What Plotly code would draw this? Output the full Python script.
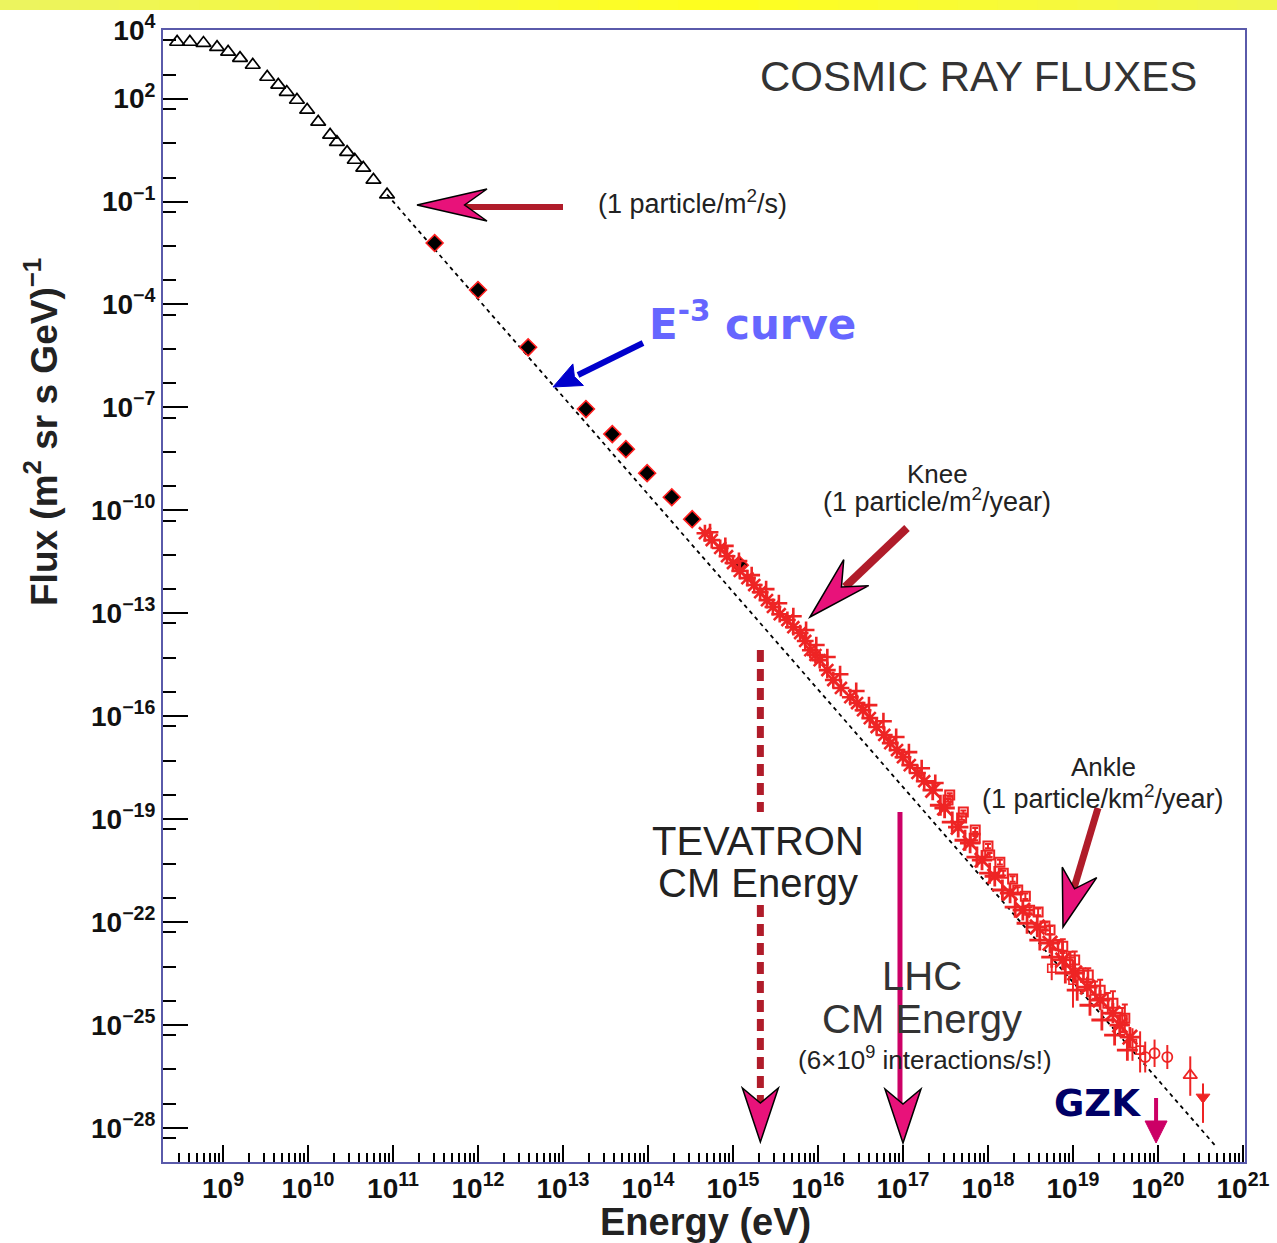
import numpy as np
import plotly.graph_objects as go

# ---------------- data (log10 values) ----------------
x_range_log = [8.294, 21.024]
y_range_log = [-29.0, 4.0]

# low-energy satellite data (open triangles)
tri_logE = [8.46, 8.61, 8.77, 8.93, 9.06, 9.20, 9.35, 9.52, 9.65, 9.75,
            9.87, 9.99, 10.12, 10.26, 10.34, 10.46, 10.55, 10.65, 10.77, 10.93]
tri_logF = [3.65, 3.65, 3.62, 3.50, 3.36, 3.18, 2.98, 2.63, 2.40, 2.19,
            1.96, 1.67, 1.32, 0.94, 0.73, 0.44, 0.21, -0.02, -0.37, -0.80]

# direct measurements (filled black markers)
dir_logE = [11.49, 12.00, 12.59, 13.27, 13.58, 13.74, 13.99, 14.28, 14.52, 15.08]
dir_logF = [-2.21, -3.58, -5.25, -7.05, -7.78, -8.22, -8.92, -9.62, -10.26, -11.60]

# air-shower data around the knee (red asterisks, band centre)
knee_logE = [14.67, 14.75, 14.85, 14.93, 15.00, 15.08, 15.17, 15.25, 15.32, 15.40,
             15.47, 15.55, 15.64, 15.71, 15.79, 15.85, 15.91, 15.97, 16.02, 16.11,
             16.18, 16.27, 16.38, 16.46, 16.53, 16.61, 16.69, 16.78, 16.85, 16.93,
             17.00, 17.08, 17.17, 17.25]
knee_logF = [-10.67, -10.87, -11.10, -11.34, -11.54, -11.77, -11.98, -12.18, -12.39, -12.62,
             -12.82, -13.03, -13.20, -13.41, -13.58, -13.81, -14.08, -14.22, -14.37, -14.66,
             -14.95, -15.18, -15.45, -15.62, -15.83, -16.06, -16.32, -16.55, -16.79, -16.99,
             -17.20, -17.43, -17.66, -17.90]

# second knee data set (red crosses, upper edge of the band)
knee2_logE = [14.73, 14.91, 15.07, 15.22, 15.39, 15.54, 15.71, 15.86, 15.98, 16.11,
              16.26, 16.45, 16.60, 16.77, 16.92, 17.07, 17.22, 17.38]
knee2_logF = [-10.64, -11.04, -11.48, -11.89, -12.30, -12.71, -13.09, -13.49, -13.93, -14.28,
              -14.78, -15.27, -15.68, -16.15, -16.61, -17.05, -17.52, -17.95]

# high-energy air-shower data (red asterisks)
high_logE = [17.35, 17.49, 17.65, 17.79, 17.93, 18.08, 18.26, 18.41, 18.58,
             18.73, 18.88, 19.02, 19.17, 19.32, 19.47, 19.55, 19.67]
high_logF = [-18.16, -18.68, -19.24, -19.70, -20.20, -20.67, -21.16, -21.66, -22.15,
             -22.62, -23.11, -23.49, -23.90, -24.28, -24.66, -25.01, -25.36]

# high-energy data, lower edge of the band (red crosses)
high2_logE = [17.44, 17.58, 17.73, 17.87, 18.02, 18.17, 18.32, 18.46, 18.61,
              18.75, 18.91, 19.05, 19.20, 19.34, 19.49, 19.64]
high2_logF = [-18.60, -19.09, -19.62, -20.11, -20.58, -21.07, -21.57, -22.04, -22.53,
              -23.03, -23.49, -23.99, -24.43, -24.86, -25.30, -25.74]

# high-energy data with error bars (red open squares, upper edge)
sq_logE = [17.53, 17.69, 17.85, 18.02, 18.18, 18.35, 18.49, 18.67, 18.82,
           18.97, 19.12, 19.26, 19.41, 19.58]
sq_logF = [-18.45, -18.97, -19.56, -20.05, -20.58, -21.07, -21.66, -22.12, -22.68,
           -23.17, -23.55, -23.99, -24.37, -24.86]
sq_logErr = [0.05, 0.05, 0.06, 0.06, 0.07, 0.08, 0.09, 0.10, 0.15,
             0.30, 0.20, 0.25, 0.30, 0.35]

sq2_logE = [17.55, 17.71, 17.85, 18.00, 18.14, 18.29, 18.44, 18.59, 18.73,
            18.88, 19.02, 19.18, 19.32, 19.47, 19.61]
sq2_logF = [-18.30, -18.80, -19.32, -19.79, -20.26, -20.75, -21.25, -21.71, -22.24,
            -22.71, -23.11, -23.55, -23.99, -24.37, -24.81]
sq2_logErr = [0.05, 0.05, 0.06, 0.06, 0.07, 0.08, 0.08, 0.10, 0.12,
              0.20, 0.25, 0.20, 0.30, 0.35, 0.40]

# ankle / highest-energy points with large error bars (red)
ank_logE = [18.75, 18.88, 19.00, 19.79, 19.70]
ank_logF = [-23.35, -22.97, -23.70, -25.74, -25.55]
ank_logErrUp = [0.30, 0.40, 0.60, 0.55, 0.45]
ank_logErrDn = [0.35, 0.40, 0.80, 0.65, 0.50]

circ_logE = [19.85, 19.96, 20.11]
circ_logF = [-25.94, -25.83, -25.94]
circ_logErr = [0.45, 0.40, 0.35]

otri_logE = [20.38]
otri_logF = [-26.47]
otri_logErrUp = [0.55]
otri_logErrDn = [0.60]

dtri_logE = [20.53]
dtri_logF = [-27.11]
dtri_logErrUp = [0.40]
dtri_logErrDn = [0.75]

# E^-3 style reference line (dashed): end points
ref_logE = [10.93, 20.67]
ref_logF = [-0.80, -28.51]

# accelerator / feature energies (eV)
tevatron_E = 2.1e15
lhc_E = 1.0e17
gzk_E = 9.5e19

# tick labels
x_tick_exp = list(range(9, 22))
x_tick_text = ["10<sup>%d</sup>" % k for k in x_tick_exp]
y_label_exp = [4, 2, -1, -4, -7, -10, -13, -16, -19, -22, -25, -28]
y_label_text = ["10<sup>%s</sup>" % (str(k) if k >= 0 else "\u2212%d" % (-k)) for k in y_label_exp]

# ---------------- helpers ----------------
def pw(v):
    return np.power(10.0, np.array(v, dtype=float))

def err_up(logF, logE_up):
    return pw(logF) * (pw(logE_up) - 1.0)

def err_dn(logF, logE_dn):
    return pw(logF) * (1.0 - pw(-np.array(logE_dn)))

W, H = 1277, 1243
L_PX, R_PX, T_PX, B_PX = 163, 1245, 30, 1162
PW, PH = R_PX - L_PX, B_PX - T_PX

def P(px, py):
    return ((px - L_PX) / PW, (B_PX - py) / PH)

def xpix_of_E(E):
    return L_PX + (np.log10(E) - x_range_log[0]) / (x_range_log[1] - x_range_log[0]) * PW

def head_path(tip, d, L, hw, nf):
    tx, ty = tip
    n = np.hypot(*d)
    dx, dy = d[0] / n, d[1] / n
    bx, by = tx - L * dx, ty - L * dy
    nx, ny = -dy, dx
    pts = [(tx, ty), (bx + hw * nx, by + hw * ny), (tx - nf * L * dx, ty - nf * L * dy),
           (bx - hw * nx, by - hw * ny)]
    s = ""
    for i, (x, y) in enumerate(pts):
        a, b = P(x, y)
        s += ("M" if i == 0 else " L") + " %.5f,%.5f" % (a, b)
    return s + " Z"

RED = "#ee2424"
PINK = "#e8127a"
DARKRED = "#b01c2a"
MAGENTA = "#cc0066"
SANS = "Liberation Sans, Arial, sans-serif"
VERD = "DejaVu Sans, Verdana, sans-serif"

fig = go.Figure()

fig.add_trace(go.Scatter(x=pw(ref_logE), y=pw(ref_logF), mode="lines",
                         line=dict(color="black", width=1.8, dash="4px,4px"),
                         hoverinfo="skip"))

fig.add_trace(go.Scatter(x=pw(tri_logE), y=pw(tri_logF), mode="markers",
                         marker=dict(symbol="triangle-up-open", size=13, color="black",
                                     line=dict(color="black", width=1.7))))

fig.add_trace(go.Scatter(x=pw(dir_logE), y=pw(dir_logF), mode="markers",
                         marker=dict(symbol="diamond", size=13, color="black",
                                     line=dict(color="#ff2020", width=1.6))))

fig.add_trace(go.Scatter(x=pw(knee_logE), y=pw(knee_logF), mode="markers",
                         marker=dict(symbol="asterisk-open", size=14, color=RED,
                                     line=dict(color=RED, width=2.6))))

fig.add_trace(go.Scatter(x=pw(knee2_logE), y=pw(knee2_logF), mode="markers",
                         marker=dict(symbol="cross-thin-open", size=12, color=RED,
                                     line=dict(color=RED, width=2.6))))

fig.add_trace(go.Scatter(x=pw(high_logE), y=pw(high_logF), mode="markers",
                         marker=dict(symbol="asterisk-open", size=17, color=RED,
                                     line=dict(color=RED, width=2.8))))

fig.add_trace(go.Scatter(x=pw(high2_logE), y=pw(high2_logF), mode="markers",
                         marker=dict(symbol="cross-thin-open", size=15, color=RED,
                                     line=dict(color=RED, width=2.8))))

fig.add_trace(go.Scatter(x=pw(sq_logE), y=pw(sq_logF), mode="markers",
                         marker=dict(symbol="square-open", size=9, color=RED,
                                     line=dict(color=RED, width=2)),
                         error_y=dict(type="data", symmetric=False,
                                      array=err_up(sq_logF, sq_logErr),
                                      arrayminus=err_dn(sq_logF, sq_logErr),
                                      color=RED, thickness=2, width=3)))

fig.add_trace(go.Scatter(x=pw(sq2_logE), y=pw(sq2_logF), mode="markers",
                         marker=dict(symbol="square-open", size=9, color=RED,
                                     line=dict(color=RED, width=2)),
                         error_y=dict(type="data", symmetric=False,
                                      array=err_up(sq2_logF, sq2_logErr),
                                      arrayminus=err_dn(sq2_logF, sq2_logErr),
                                      color=RED, thickness=2, width=3)))

fig.add_trace(go.Scatter(x=pw(ank_logE), y=pw(ank_logF), mode="markers",
                         marker=dict(symbol="square-open", size=8, color=RED,
                                     line=dict(color=RED, width=1.6)),
                         error_y=dict(type="data", symmetric=False,
                                      array=err_up(ank_logF, ank_logErrUp),
                                      arrayminus=err_dn(ank_logF, ank_logErrDn),
                                      color=RED, thickness=2, width=0)))

fig.add_trace(go.Scatter(x=pw(circ_logE), y=pw(circ_logF), mode="markers",
                         marker=dict(symbol="circle-open", size=10, color=RED,
                                     line=dict(color=RED, width=1.8)),
                         error_y=dict(type="data", symmetric=False,
                                      array=err_up(circ_logF, circ_logErr),
                                      arrayminus=err_dn(circ_logF, circ_logErr),
                                      color=RED, thickness=2, width=0)))

fig.add_trace(go.Scatter(x=pw(otri_logE), y=pw(otri_logF), mode="markers",
                         marker=dict(symbol="triangle-up-open", size=12, color=RED,
                                     line=dict(color=RED, width=1.8)),
                         error_y=dict(type="data", symmetric=False,
                                      array=err_up(otri_logF, otri_logErrUp),
                                      arrayminus=err_dn(otri_logF, otri_logErrDn),
                                      color=RED, thickness=2, width=0)))

fig.add_trace(go.Scatter(x=pw(dtri_logE), y=pw(dtri_logF), mode="markers",
                         marker=dict(symbol="triangle-down", size=12, color=RED,
                                     line=dict(color=RED, width=1)),
                         error_y=dict(type="data", symmetric=False,
                                      array=err_up(dtri_logF, dtri_logErrUp),
                                      arrayminus=err_dn(dtri_logF, dtri_logErrDn),
                                      color=RED, thickness=2, width=0)))

shapes = []

# yellow gradient band at the very top
nseg = 32
for i in range(nseg):
    x0 = i * W / nseg
    x1 = (i + 1) * W / nseg + 1
    xc = (x0 + x1) / 2
    t = max(0.0, 1 - abs(xc - 720) / 720.0)
    r = int(236 + (255 - 236) * t)
    g = int(244 + (255 - 244) * t)
    b = int(96 + (30 - 96) * t)
    a0 = P(x0, 0)
    a1 = P(x1, 10)
    shapes.append(dict(type="rect", xref="paper", yref="paper", x0=a0[0], x1=a1[0],
                       y0=a1[1], y1=a0[1], fillcolor="rgb(%d,%d,%d)" % (r, g, b),
                       line=dict(width=0), layer="above"))

def seg(p0, p1, color, width, dash=None):
    a, b = P(*p0), P(*p1)
    ln = dict(color=color, width=width)
    if dash:
        ln["dash"] = dash
    shapes.append(dict(type="line", xref="paper", yref="paper", x0=a[0], y0=a[1],
                       x1=b[0], y1=b[1], line=ln, layer="above"))

def head(tip, d, L, hw, nf, fill=PINK, outline="black", ow=1.5):
    shapes.append(dict(type="path", xref="paper", yref="paper",
                       path=head_path(tip, d, L, hw, nf), fillcolor=fill,
                       line=dict(color=outline, width=ow), layer="above"))

# 1 particle / m^2 / s arrow
seg((563, 207), (462, 207), DARKRED, 6)
head((417, 205), (-1, 0), 70, 16, 0.68)

# knee arrow
seg((907, 528), (845, 587), DARKRED, 8)
head((810, 617), (-0.72, 0.69), 64, 18, 0.68)

# ankle arrow
seg((1098, 808), (1074, 888), DARKRED, 7)
head((1063, 927), (-0.29, 0.96), 57, 18, 0.70)

# E^-3 arrow (blue)
seg((643, 343), (578, 375), "#0000cc", 6)
head((553, 387), (-0.9, 0.44), 28, 12, 0.85, fill="#0000cc", outline="#0000cc", ow=1)

# Tevatron dashed line with gap for the text
xt = xpix_of_E(tevatron_E)
seg((xt, 650), (xt, 812), DARKRED, 7, dash="12px,7px")
seg((xt, 905), (xt, 1102), DARKRED, 7, dash="12px,7px")
head((xt, 1142), (0, 1), 54, 18, 0.72)

# LHC solid line
xl = xpix_of_E(lhc_E)
seg((xl - 3, 812), (xl - 3, 1104), MAGENTA, 5)
head((xl, 1143), (0, 1), 54, 18, 0.72)

# GZK arrow
xg = xpix_of_E(gzk_E)
seg((xg, 1098), (xg, 1126), MAGENTA, 4)
head((xg, 1143), (0, 1), 22, 11, 1.0, fill=MAGENTA, outline=MAGENTA, ow=1)

annotations = []

def txt(text, px, py, size, color="#222222", family=SANS, xanchor="center", angle=0, bold=False):
    a, b = P(px, py)
    annotations.append(dict(text=text, x=a, y=b, xref="paper", yref="paper",
                            showarrow=False, xanchor=xanchor, yanchor="middle",
                            textangle=angle,
                            font=dict(size=size, color=color, family=family,
                                      weight="bold" if bold else "normal")))

txt("COSMIC RAY FLUXES", 978, 77, 42, color="#333333")
txt("(1 particle/m<sup>2</sup>/s)", 692, 202, 27)
txt("E<sup>-3</sup> curve", 647, 322, 42, color="#6666ff", family=VERD, xanchor="left", bold=True)
txt("Knee", 937, 474, 26)
txt("(1 particle/m<sup>2</sup>/year)", 937, 500, 27)
txt("Ankle", 1103, 767, 26)
txt("(1 particle/km<sup>2</sup>/year)", 1103, 797, 27)
txt("TEVATRON", 758, 841, 40)
txt("CM Energy", 758, 883, 40)
txt("LHC", 922, 976, 40, color="#333333")
txt("CM Energy", 922, 1019, 40, color="#333333")
txt("(6\u00d710<sup>9</sup> interactions/s!)", 925, 1058, 26)
txt("GZK", 1097, 1103, 37, color="#000066", family=VERD, bold=True)
txt("Flux (m<sup>2</sup> sr s GeV)<sup>\u22121</sup>", 42, 432, 37, color="#222222", angle=-90, bold=True)
txt("Energy (eV)", 705, 1222, 38, color="#222222", bold=True)

# ticks
x_major = [10.0 ** k for k in x_tick_exp]
x_minor = [m * 10.0 ** k for k in range(8, 21) for m in range(2, 10)]
y_major = [10.0 ** k for k in y_label_exp]
y_unlabeled = [10.0 ** k for k in range(-29, 5) if k not in y_label_exp]
y_minor = [5 * 10.0 ** k for k in range(-30, 4)]

FRAME = "#5a5aaa"
fig.update_layout(
    width=W, height=H,
    margin=dict(l=L_PX, r=W - R_PX, t=T_PX, b=H - B_PX, autoexpand=False),
    paper_bgcolor="white", plot_bgcolor="white",
    showlegend=False,
    shapes=shapes, annotations=annotations,
    xaxis=dict(type="log", range=x_range_log, showgrid=False, zeroline=False,
               automargin=False,
               showline=True, mirror=True, linecolor=FRAME, linewidth=2,
               ticks="inside", ticklen=17, tickwidth=2, tickcolor="black",
               tickmode="array", tickvals=x_major, ticktext=x_tick_text,
               tickfont=dict(family=SANS, size=28, color="#111111", weight="bold"),
               minor=dict(tickmode="array", tickvals=x_minor, ticks="inside",
                          ticklen=9, tickwidth=1.5, tickcolor="black")),
    yaxis=dict(type="log", range=y_range_log, showgrid=False, zeroline=False,
               automargin=False,
               showline=True, mirror=True, linecolor=FRAME, linewidth=2,
               ticks="inside", ticklen=25, tickwidth=2, tickcolor="black",
               tickmode="array", tickvals=y_major, ticktext=y_label_text,
               tickfont=dict(family=SANS, size=28, color="#111111", weight="bold"),
               minor=dict(tickmode="array", tickvals=y_minor, ticks="inside",
                          ticklen=13, tickwidth=2, tickcolor="black")),
    yaxis2=dict(type="log", range=y_range_log, overlaying="y", side="left",
                showgrid=False, zeroline=False, showline=False, automargin=False,
                showticklabels=False, ticks="inside", ticklen=25, tickwidth=2,
                tickcolor="black", tickmode="array", tickvals=y_unlabeled),
)

fig.write_html("out.html")
